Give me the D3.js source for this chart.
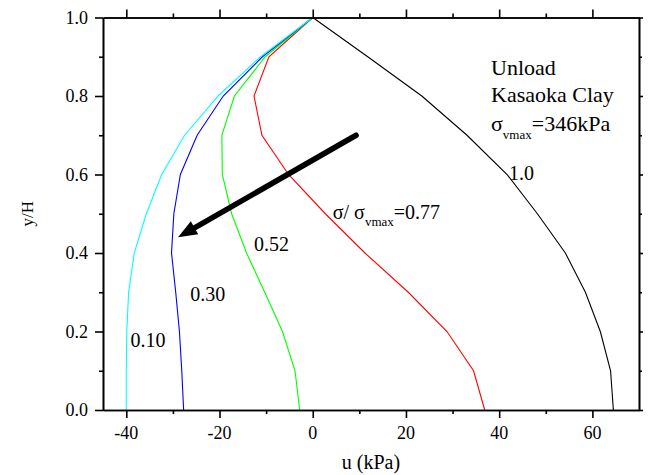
<!DOCTYPE html>
<html>
<head>
<meta charset="utf-8">
<script src="https://cdn.jsdelivr.net/npm/d3@7/dist/d3.min.js"></script>
<style>
  html, body { margin: 0; padding: 0; background: #fff; }
  svg { display: block; }
</style>
</head>
<body>
<svg id="chart" width="649" height="475"></svg>
<script>
// ---- data ----
const yLevels = [1.0, 0.9, 0.8, 0.7, 0.6, 0.5, 0.4, 0.3, 0.2, 0.1, 0.0];
const u100 = [0, 11.8, 23.4, 33.1, 41.7, 48.2, 54.2, 58.5, 61.7, 63.9, 64.5];
const u077 = [0, -9.4, -12.6, -10.9, -5.2, 2.7, 11.2, 20.5, 28.8, 34.5, 36.9];
const u052 = [0, -10.2, -16.8, -19.5, -19.4, -17.4, -14.2, -10.3, -6.5, -3.8, -2.8];
const u030 = [0, -10.8, -19.2, -24.8, -28.4, -29.8, -30.3, -29.4, -28.6, -28.1, -27.7];
const u010 = [0, -11.2, -20.3, -27.5, -32.4, -35.7, -38.3, -39.5, -39.9, -40.0, -40.0];
const seriesNames = ["1.0", "0.77", "0.52", "0.30", "0.10"];
const seriesValues = [u100, u077, u052, u030, u010];
const seriesColors = ["#000000", "#ff0000", "#00ff00", "#0000ff", "#00ffff"];
const xMajorTicks = [-40, -20, 0, 20, 40, 60];
const xMinorTicks = [-30, -10, 10, 30, 50];
const yMajorTicks = [0.0, 0.2, 0.4, 0.6, 0.8, 1.0];
const yMinorTicks = [0.1, 0.3, 0.5, 0.7, 0.9];
const xDomain = [-45, 70];
const yDomain = [0, 1];
// arrow in data units: [u, y/H]
const arrowStart = [9.3, 0.70];
const arrowEnd = [-28.9, 0.44];
// curve labels in data units (left edge, baseline)
const curveLabels = [
  { text: "1.0", u: 42.1, y: 0.585 },
  { text: "0.52", u: -12.6, y: 0.406 },
  { text: "0.30", u: -26.3, y: 0.277 },
  { text: "0.10", u: -39.1, y: 0.160 }
];

const FONT = "'Liberation Serif', Tinos, 'Times New Roman', Times, 'DejaVu Serif', serif";

// ---- layout ----
const svg = d3.select("#chart").attr("font-family", FONT);
const pLeft = 103, pRight = 639, pTop = 17.5, pBottom = 410;
const x = d3.scaleLinear().domain(xDomain).range([pLeft, pRight]);
const y = d3.scaleLinear().domain(yDomain).range([pBottom, pTop]);

// curves
const line = d3.line().x(d => x(d[0])).y(d => y(d[1]));
seriesValues.forEach((vals, i) => {
  const pts = vals.map((u, j) => [u, yLevels[j]]);
  svg.append("path")
    .attr("d", line(pts))
    .attr("fill", "none")
    .attr("stroke", seriesColors[i])
    .attr("stroke-width", 1.1);
});

// axes
function styleAxis(g) {
  g.selectAll("path.domain").attr("stroke", "#000").attr("stroke-width", 1.6);
  g.selectAll(".tick line").attr("stroke", "#000").attr("stroke-width", 1.6);
  g.selectAll(".tick text").remove();
}
function addAxis(gen, transform) {
  const g = svg.append("g").attr("transform", transform).call(gen);
  styleAxis(g);
  return g;
}
// bottom
addAxis(d3.axisBottom(x).tickValues(xMajorTicks).tickSize(8).tickSizeOuter(0).tickFormat(""), `translate(0,${pBottom})`);
addAxis(d3.axisBottom(x).tickValues(xMinorTicks).tickSize(4).tickSizeOuter(0).tickFormat(""), `translate(0,${pBottom})`);
// top
addAxis(d3.axisTop(x).tickValues(xMajorTicks).tickSize(8).tickSizeOuter(0).tickFormat(""), `translate(0,${pTop})`);
addAxis(d3.axisTop(x).tickValues(xMinorTicks).tickSize(4).tickSizeOuter(0).tickFormat(""), `translate(0,${pTop})`);
// left
addAxis(d3.axisLeft(y).tickValues(yMajorTicks).tickSize(8).tickSizeOuter(0).tickFormat(""), `translate(${pLeft},0)`);
addAxis(d3.axisLeft(y).tickValues(yMinorTicks).tickSize(4).tickSizeOuter(0).tickFormat(""), `translate(${pLeft},0)`);
// right
addAxis(d3.axisRight(y).tickValues(yMajorTicks).tickSize(4).tickSizeOuter(0).tickFormat(""), `translate(${pRight},0)`);
addAxis(d3.axisRight(y).tickValues(yMinorTicks).tickSize(3).tickSizeOuter(0).tickFormat(""), `translate(${pRight},0)`);

const T = sel => sel.attr("font-family", FONT).attr("fill", "#000");

// tick labels
svg.append("g").selectAll("text").data(xMajorTicks).join("text")
  .call(T)
  .attr("x", d => x(d))
  .attr("y", 439)
  .attr("text-anchor", "middle")
  .attr("font-size", 18)
  .text(d => String(d));
svg.append("g").selectAll("text").data(yMajorTicks).join("text")
  .call(T)
  .attr("x", 88)
  .attr("y", d => y(d))
  .attr("dy", "0.34em")
  .attr("text-anchor", "end")
  .attr("font-size", 18)
  .text(d => d3.format(".1f")(d));

// axis titles
svg.append("text").call(T)
  .attr("x", (pLeft + pRight) / 2)
  .attr("y", 469)
  .attr("text-anchor", "middle")
  .attr("font-size", 20)
  .text("u (kPa)");
svg.append("text").call(T)
  .attr("transform", `translate(33,${(pTop + pBottom) / 2}) rotate(-90)`)
  .attr("text-anchor", "middle")
  .attr("font-size", 17)
  .text("y/H");

// arrow
const ax0 = x(arrowStart[0]), ay0 = y(arrowStart[1]);
const ax1 = x(arrowEnd[0]), ay1 = y(arrowEnd[1]);
const adx = ax1 - ax0, ady = ay1 - ay0, alen = Math.hypot(adx, ady);
const ux = adx / alen, uy = ady / alen;
const headLen = 19, headHalf = 7.5;
const bx = ax1 - ux * headLen, by = ay1 - uy * headLen;
svg.append("line")
  .attr("x1", ax0).attr("y1", ay0)
  .attr("x2", bx + ux * 3).attr("y2", by + uy * 3)
  .attr("stroke", "#000").attr("stroke-width", 5.5)
  .attr("stroke-linecap", "round");
svg.append("path")
  .attr("d", `M${ax1},${ay1} L${bx - uy * headHalf},${by + ux * headHalf} L${bx + uy * headHalf},${by - ux * headHalf} Z`)
  .attr("fill", "#000");

// curve labels
svg.append("g").selectAll("text").data(curveLabels).join("text")
  .call(T)
  .attr("x", d => x(d.u))
  .attr("y", d => y(d.y))
  .attr("font-size", 20)
  .text(d => d.text);

// sigma/sigma_vmax = 0.77 label
const t77 = svg.append("text").call(T)
  .attr("x", x(4.3)).attr("y", y(0.486)).attr("font-size", 20);
t77.append("tspan").text("σ/ σ");
t77.append("tspan").attr("font-size", 13).attr("dy", 7).text("vmax");
t77.append("tspan").attr("dy", -7).text("=0.77");

// top-right annotation
svg.append("text").call(T).attr("x", 491).attr("y", 74.5).attr("font-size", 22).text("Unload");
svg.append("text").call(T).attr("x", 491).attr("y", 101.5).attr("font-size", 22).text("Kasaoka Clay");
const tmax = svg.append("text").call(T).attr("x", 491).attr("y", 131).attr("font-size", 22);
tmax.append("tspan").text("σ");
tmax.append("tspan").attr("font-size", 13).attr("dy", 7.5).text("vmax");
tmax.append("tspan").attr("dy", -7.5).text("=346kPa");
</script>
</body>
</html>
